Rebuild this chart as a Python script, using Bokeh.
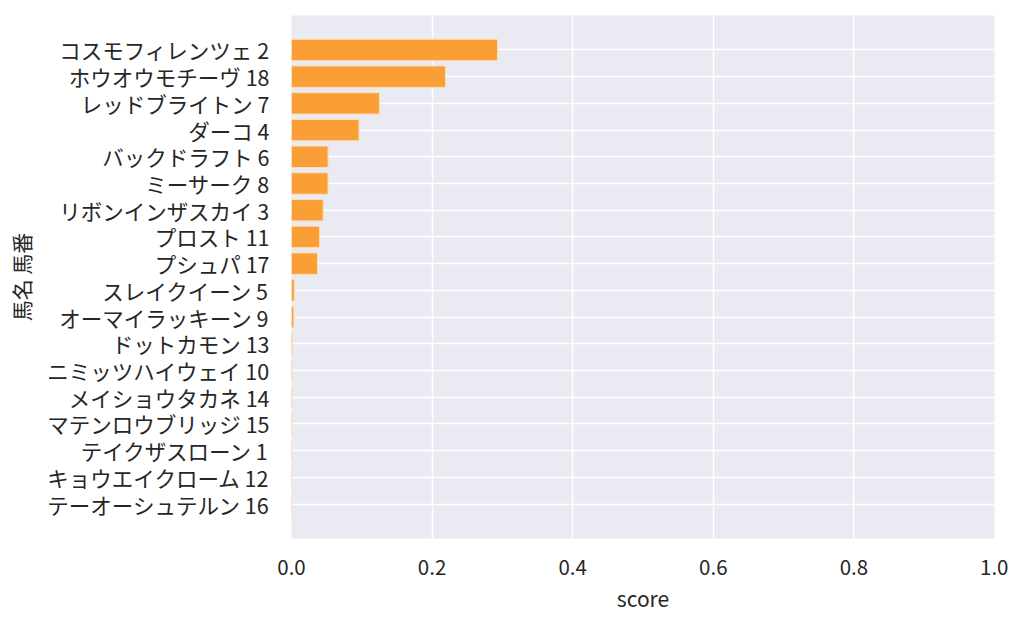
from bokeh.plotting import figure
from bokeh.embed import file_html
from bokeh.resources import INLINE
from bokeh.models import ColumnDataSource, FixedTicker, Range1d

horses = ["コスモフィレンツェ 2", "ホウオウモチーヴ 18", "レッドブライトン 7", "ダーコ 4",
          "バックドラフト 6", "ミーサーク 8", "リボンインザスカイ 3", "プロスト 11",
          "プシュパ 17", "スレイクイーン 5", "オーマイラッキーン 9", "ドットカモン 13",
          "ニミッツハイウェイ 10", "メイショウタカネ 14", "マテンロウブリッジ 15",
          "テイクザスローン 1", "キョウエイクローム 12", "テーオーシュテルン 16"]
scores = [0.293, 0.219, 0.125, 0.096, 0.052, 0.052, 0.045, 0.040, 0.037,
          0.004, 0.0033, 0.001, 0.0006, 0.0005, 0.0004, 0.0003, 0.0002, 0.0001]
xticks = [0.0, 0.2, 0.4, 0.6, 0.8, 1.0]

pos = list(range(len(horses)))
src = ColumnDataSource(dict(y=pos, score=scores))

FONT = "Noto Sans CJK JP"
p = figure(width=1008, height=623, output_backend="svg", toolbar_location=None,
           x_range=Range1d(0, 1), y_range=Range1d(18.29, -1.29),
           min_border_left=291, min_border_right=14, min_border_top=15, min_border_bottom=85)
p.background_fill_color = "#EAEAF2"
p.outline_line_color = None

p.hbar(y="y", left=0, right="score", height=0.8, source=src,
       fill_color="#FA9E36", line_color="#FDDDB5", line_width=1)

p.xaxis.ticker = FixedTicker(ticks=xticks)
p.xaxis.major_label_overrides = {t: f"{t:.1f}" for t in xticks}
p.yaxis.ticker = FixedTicker(ticks=pos)
p.yaxis.major_label_overrides = {i: h for i, h in enumerate(horses)}

for ax in (p.xaxis, p.yaxis):
    ax.axis_line_color = None
    ax.major_tick_line_color = None
    ax.minor_tick_line_color = None
    ax.major_tick_out = 0
    ax.major_tick_in = 0
    ax.minor_tick_out = 0
    ax.major_label_text_font = FONT
    ax.major_label_text_color = "#262626"
    ax.axis_label_text_font = FONT
    ax.axis_label_text_font_size = "21px"
    ax.axis_label_text_color = "#262626"
    ax.axis_label_text_font_style = "normal"

p.xaxis.major_label_text_font_size = "20.5px"
p.yaxis.major_label_text_font_size = "21.5px"
p.xaxis.major_label_standoff = 21
p.yaxis.major_label_standoff = 22
p.xaxis.axis_label = "score"
p.yaxis.axis_label = "馬名 馬番"
p.xaxis.axis_label_standoff = 5
p.yaxis.axis_label_standoff = 8

p.xgrid.grid_line_color = "white"
p.xgrid.grid_line_width = 1.5
p.ygrid.grid_line_color = "white"
p.ygrid.grid_line_width = 1.5
p.grid.level = "underlay"

open("out.html", "w").write(file_html(p, INLINE))
